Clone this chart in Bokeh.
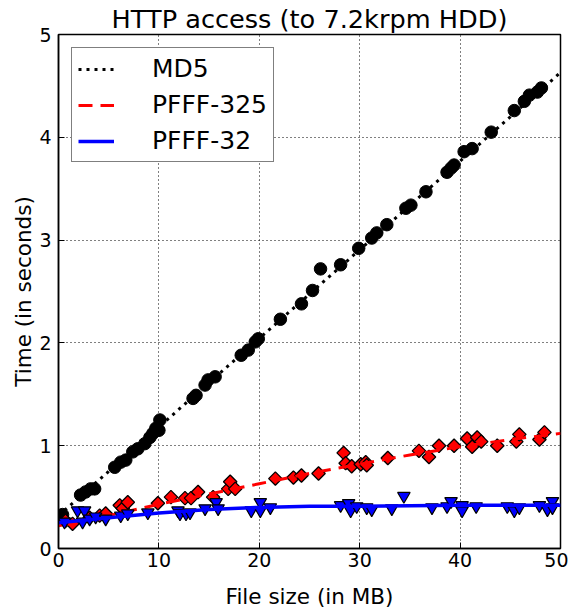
from bokeh.plotting import figure
from bokeh.layouts import row
from bokeh.models import Range1d, Legend, LegendItem, SingleIntervalTicker, Spacer
from bokeh.embed import file_html
from bokeh.resources import INLINE

# ---- data ----
md5_x = [0.4, 2.2, 2.7, 3.2, 3.6, 5.6, 6.2, 6.7, 7.4, 7.9, 8.6, 9.1, 9.4, 9.7, 10.0, 10.1,
         13.4, 13.7, 14.6, 14.9, 15.6, 18.2, 18.9, 19.6, 19.9, 22.1, 24.2, 25.3, 26.1, 28.1,
         29.9, 31.2, 31.7, 32.7, 34.6, 35.1, 36.6, 38.7, 39.1, 39.4, 40.4, 41.2, 43.1, 45.4,
         46.4, 46.9, 47.7, 48.1]
md5_y = [0.33, 0.52, 0.55, 0.58, 0.58, 0.79, 0.84, 0.86, 0.94, 0.97, 1.02, 1.08, 1.12, 1.17, 1.15, 1.25,
         1.46, 1.49, 1.59, 1.64, 1.67, 1.88, 1.93, 2.01, 2.04, 2.23, 2.38, 2.51, 2.72, 2.76,
         2.92, 3.02, 3.07, 3.15, 3.31, 3.34, 3.47, 3.66, 3.70, 3.73, 3.86, 3.89, 4.05, 4.26,
         4.35, 4.41, 4.44, 4.48]
md5_fit_x = [0, 50]
md5_fit_y = [0.32, 4.63]

p325_x = [0.7, 1.4, 3.1, 4.1, 4.7, 6.1, 6.4, 6.9, 9.9, 11.2, 12.6, 13.2, 13.9, 15.4, 16.9, 17.1,
          17.6, 21.6, 23.4, 24.2, 25.9, 28.4, 28.6, 29.2, 30.1, 30.6, 30.7, 32.8, 35.9, 36.9,
          37.9, 39.4, 40.7, 41.2, 41.7, 42.1, 43.7, 45.6, 45.9, 47.9, 48.4]
p325_y = [0.27, 0.24, 0.30, 0.32, 0.34, 0.42, 0.39, 0.45, 0.44, 0.50, 0.49, 0.49, 0.55, 0.50, 0.58, 0.65,
          0.58, 0.68, 0.69, 0.71, 0.73, 0.93, 0.83, 0.80, 0.82, 0.84, 0.81, 0.88, 0.95, 0.89,
          1.00, 1.00, 1.07, 0.99, 1.08, 1.04, 1.00, 1.04, 1.11, 1.06, 1.13]
p325_fit_x = [0, 5, 10, 15, 20, 25, 30, 35, 40, 45, 50]
p325_fit_y = [0.22, 0.32, 0.43, 0.53, 0.63, 0.73, 0.82, 0.91, 0.99, 1.06, 1.12]

p32_x = [0.6, 1.9, 2.4, 2.6, 3.1, 3.7, 4.7, 6.2, 6.9, 8.9, 11.9, 12.1, 12.7, 13.1, 14.6, 15.7,
         15.9, 19.2, 20.1, 20.1, 21.1, 28.1, 28.9, 29.1, 29.7, 30.7, 31.2, 33.2, 34.4, 37.2,
         38.7, 39.1, 40.2, 40.2, 41.6, 44.7, 45.4, 45.9, 47.9, 48.7, 49.2, 49.2]
p32_y = [0.26, 0.37, 0.26, 0.37, 0.29, 0.31, 0.29, 0.32, 0.34, 0.35, 0.37, 0.34, 0.34, 0.35, 0.39, 0.45,
         0.39, 0.37, 0.45, 0.37, 0.40, 0.42, 0.44, 0.37, 0.41, 0.40, 0.38, 0.39, 0.51, 0.40,
         0.41, 0.46, 0.42, 0.37, 0.41, 0.41, 0.37, 0.40, 0.42, 0.38, 0.46, 0.40]
p32_fit_x = [0, 5, 10, 15, 20, 25, 30, 40, 50]
p32_fit_y = [0.25, 0.30, 0.345, 0.38, 0.40, 0.41, 0.41, 0.42, 0.42]

FONT = "DejaVu Sans"

p = figure(width=560, height=611, output_backend="svg", toolbar_location=None,
           x_range=Range1d(0, 50), y_range=Range1d(0, 5),
           min_border_left=40, min_border_right=8, min_border_top=28, min_border_bottom=52,
           title="HTTP access (to 7.2krpm HDD)")
p.title.text_font = FONT
p.title.text_font_size = "25.6px"
p.title.text_font_style = "normal"
p.title.text_color = "black"
p.title.align = "center"
p.title.standoff = 2
p.title.offset = 0

p.background_fill_color = "white"
p.border_fill_color = "white"
p.outline_line_color = "black"
p.outline_line_width = 1.5

for ax in (p.xaxis[0], p.yaxis[0]):
    ax.major_label_text_font = FONT
    ax.major_label_text_font_size = "19px"
    ax.major_label_text_color = "black"
    ax.axis_label_text_font = FONT
    ax.axis_label_text_font_size = "21.5px"
    ax.axis_label_text_font_style = "normal"
    ax.axis_label_text_color = "black"
    ax.major_tick_in = 6
    ax.major_tick_out = 0
    ax.minor_tick_in = 0
    ax.minor_tick_out = 0
    ax.axis_line_color = "black"
    ax.axis_line_width = 1.5
    ax.major_tick_line_color = "black"
p.xaxis.ticker = SingleIntervalTicker(interval=10)
p.yaxis.ticker = SingleIntervalTicker(interval=1)
p.xaxis.axis_label = "File size (in MB)"
p.yaxis.axis_label = "Time (in seconds)"
p.xaxis.major_label_standoff = 4
p.yaxis.major_label_standoff = 7
p.xaxis.axis_label_standoff = 14
p.yaxis.axis_label_standoff = 0

p.xgrid.ticker = SingleIntervalTicker(interval=10)
p.ygrid.ticker = SingleIntervalTicker(interval=1)
p.grid.grid_line_color = "black"
p.grid.grid_line_dash = "1 3"
p.grid.grid_line_width = 1

# ---- series ----
p.scatter(md5_x, md5_y, marker="circle", size=12.5, fill_color="black", line_color="black")
r_md5 = p.line(md5_fit_x, md5_fit_y, line_color="black", line_width=3, line_dash="3 5")

p.scatter(p325_x, p325_y, marker="square", angle=0.785398, size=9.5,
          fill_color="#ff0000", line_color="black", line_width=1.3)
r_325 = p.line(p325_fit_x, p325_fit_y, line_color="#ff0000", line_width=3, line_dash="14 8")

p.scatter(p32_x, p32_y, marker="inverted_triangle", size=12.5,
          fill_color="#0000ff", line_color="black", line_width=1.2)
r_32 = p.line(p32_fit_x, p32_fit_y, line_color="#0000ff", line_width=3.5)

legend = Legend(items=[LegendItem(label="MD5", renderers=[r_md5]),
                       LegendItem(label="PFFF-325", renderers=[r_325]),
                       LegendItem(label="PFFF-32", renderers=[r_32])],
                location="top_left", margin=13, padding=6, spacing=7,
                glyph_width=36, glyph_height=20, label_standoff=38,
                label_text_font=FONT, label_text_font_size="25px",
                label_text_color="black",
                border_line_color="black", border_line_width=1.5,
                background_fill_color="white", background_fill_alpha=1.0)
p.add_layout(legend)

layout = row(Spacer(width=8, height=611), p, spacing=0)

open("out.html", "w").write(file_html(layout, INLINE))
